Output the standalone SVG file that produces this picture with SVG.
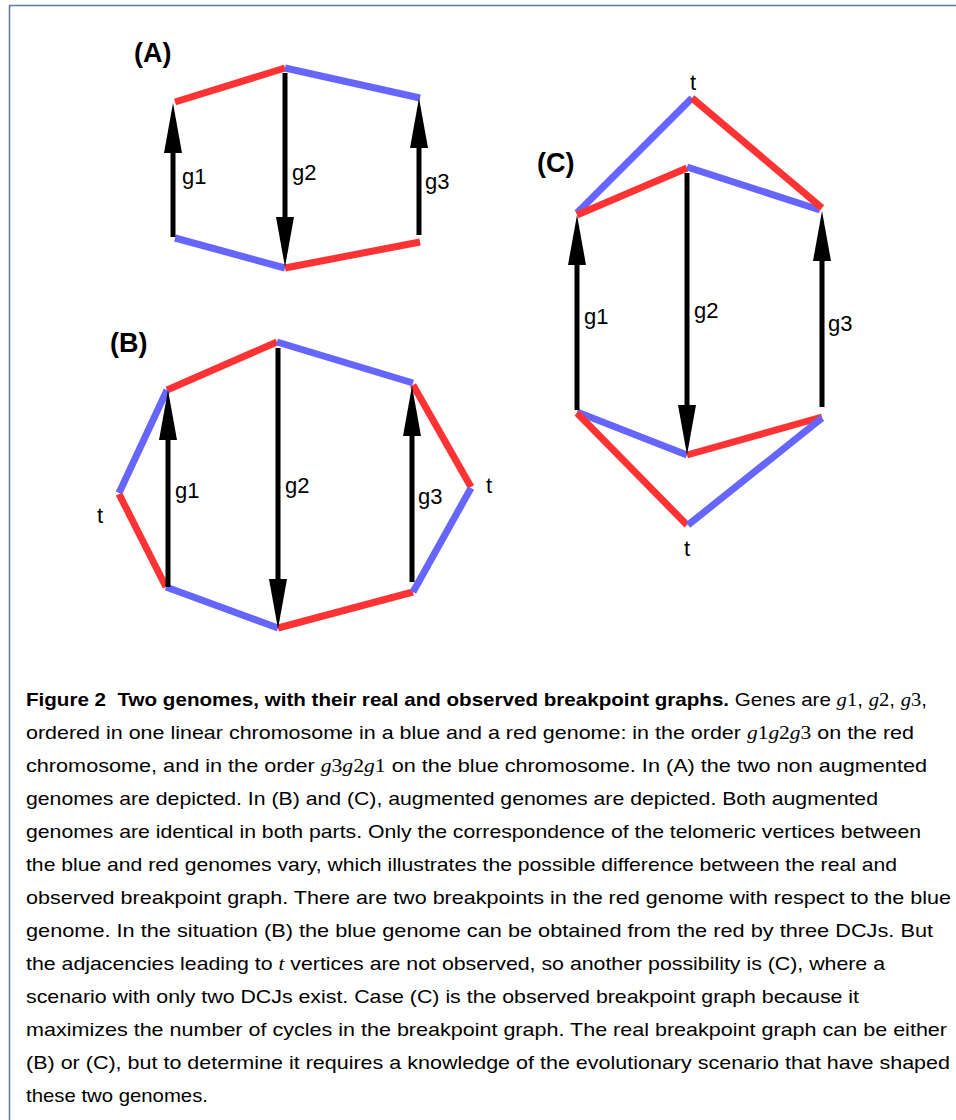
<svg xmlns="http://www.w3.org/2000/svg" width="956" height="1120" viewBox="0 0 956 1120">
<style>
.r{stroke:#ff3333;stroke-width:7;fill:none}
.b{stroke:#6666ff;stroke-width:7;fill:none}
.g{stroke:#000;stroke-width:5;fill:none;marker-end:url(#ah)}
.lb{font-family:"Liberation Sans",Arial,sans-serif;font-size:22px;fill:#000}
.pl{font-family:"Liberation Sans",Arial,sans-serif;font-size:27px;font-weight:bold;fill:#000}
.cap{font-family:"Liberation Sans",Arial,sans-serif;font-size:19px;fill:#000}
.m{font-family:"Liberation Serif","Times New Roman",serif;font-style:italic}
.d{font-family:"Liberation Serif","Times New Roman",serif}
</style>
<defs>
<marker id="ah" markerUnits="userSpaceOnUse" markerWidth="50" markerHeight="18" viewBox="0 0 50 18" refX="2" refY="9" orient="auto">
<path d="M0,0 L50,9 L0,18 Z" fill="#000"/>
</marker>
</defs>
<rect width="956" height="1120" fill="#fff"/>
<path d="M9.5,1120 V5.5 H956" fill="none" stroke="#5b7aa8" stroke-width="1.5"/>

<g id="panelA">
<text class="pl" x="134" y="62">(A)</text>
<line class="r" x1="175" y1="102" x2="285" y2="68"/>
<line class="b" x1="285" y1="68" x2="420" y2="98"/>
<line class="b" x1="175" y1="238" x2="285" y2="268"/>
<line class="r" x1="285" y1="268" x2="420" y2="242"/>
<g id="A-genes">
<line class="g" x1="173" y1="237" x2="173" y2="151"/>
<line class="g" x1="285" y1="73" x2="285" y2="219"/>
<line class="g" x1="419" y1="235" x2="419" y2="146"/>
</g>
<text class="lb" x="182" y="184">g1</text>
<text class="lb" x="292" y="180">g2</text>
<text class="lb" x="425" y="189">g3</text>
</g>

<g id="panelB">
<text class="pl" x="110" y="352">(B)</text>
<line class="r" x1="167" y1="390" x2="277" y2="342"/>
<line class="b" x1="277" y1="342" x2="413" y2="383"/>
<line class="b" x1="167" y1="390" x2="119" y2="493"/>
<line class="r" x1="119" y1="494" x2="166" y2="587"/>
<line class="b" x1="166" y1="587" x2="278" y2="628"/>
<line class="r" x1="278" y1="628" x2="413" y2="592"/>
<line class="r" x1="413" y1="385" x2="471" y2="487"/>
<line class="b" x1="471" y1="488" x2="413" y2="592"/>
<g id="B-genes">
<line class="g" x1="168" y1="587" x2="168" y2="438"/>
<line class="g" x1="278" y1="348" x2="278" y2="581"/>
<line class="g" x1="412" y1="582" x2="412" y2="434"/>
</g>
<text class="lb" x="175" y="498">g1</text>
<text class="lb" x="285" y="493">g2</text>
<text class="lb" x="418" y="504">g3</text>
<text class="lb" x="97" y="523">t</text>
<text class="lb" x="486" y="493">t</text>
</g>

<g id="panelC">
<text class="pl" x="537" y="172">(C)</text>
<line class="b" x1="577" y1="213" x2="692" y2="98"/>
<line class="b" x1="687" y1="167" x2="820" y2="210"/>
<line class="r" x1="692" y1="98" x2="822" y2="208"/>
<line class="r" x1="577" y1="215" x2="687" y2="168"/>
<line class="b" x1="577" y1="412" x2="687" y2="455"/>
<line class="r" x1="687" y1="455" x2="822" y2="417"/>
<line class="r" x1="577" y1="413" x2="687" y2="525"/>
<line class="b" x1="688" y1="525" x2="822" y2="418"/>
<g id="C-genes">
<line class="g" x1="577" y1="410" x2="577" y2="263"/>
<line class="g" x1="687" y1="173" x2="687" y2="407"/>
<line class="g" x1="822" y1="407" x2="822" y2="259"/>
</g>
<text class="lb" x="584" y="324">g1</text>
<text class="lb" x="694" y="318">g2</text>
<text class="lb" x="828" y="331">g3</text>
<text class="lb" x="693" y="90" text-anchor="middle">t</text>
<text class="lb" x="687" y="556" text-anchor="middle">t</text>
</g>

<g id="caption" class="cap">
<text x="26" y="706" textLength="901" lengthAdjust="spacingAndGlyphs"><tspan font-weight="bold">Figure 2&#160; Two genomes, with their real and observed breakpoint graphs.</tspan> Genes are <tspan class="m">g</tspan><tspan class="d">1</tspan>, <tspan class="m">g</tspan><tspan class="d">2</tspan>, <tspan class="m">g</tspan><tspan class="d">3</tspan>,</text>
<text x="26" y="739" textLength="888" lengthAdjust="spacingAndGlyphs">ordered in one linear chromosome in a blue and a red genome: in the order <tspan class="m">g</tspan><tspan class="d">1</tspan><tspan class="m">g</tspan><tspan class="d">2</tspan><tspan class="m">g</tspan><tspan class="d">3</tspan> on the red</text>
<text x="26" y="772" textLength="901" lengthAdjust="spacingAndGlyphs">chromosome, and in the order <tspan class="m">g</tspan><tspan class="d">3</tspan><tspan class="m">g</tspan><tspan class="d">2</tspan><tspan class="m">g</tspan><tspan class="d">1</tspan> on the blue chromosome. In (A) the two non augmented</text>
<text x="26" y="805" textLength="852" lengthAdjust="spacingAndGlyphs">genomes are depicted. In (B) and (C), augmented genomes are depicted. Both augmented</text>
<text x="26" y="838" textLength="895" lengthAdjust="spacingAndGlyphs">genomes are identical in both parts. Only the correspondence of the telomeric vertices between</text>
<text x="26" y="871" textLength="871" lengthAdjust="spacingAndGlyphs">the blue and red genomes vary, which illustrates the possible difference between the real and</text>
<text x="26" y="904" textLength="925" lengthAdjust="spacingAndGlyphs">observed breakpoint graph. There are two breakpoints in the red genome with respect to the blue</text>
<text x="26" y="937" textLength="907" lengthAdjust="spacingAndGlyphs">genome. In the situation (B) the blue genome can be obtained from the red by three DCJs. But</text>
<text x="26" y="970" textLength="859" lengthAdjust="spacingAndGlyphs">the adjacencies leading to <tspan class="m">t</tspan> vertices are not observed, so another possibility is (C), where a</text>
<text x="26" y="1003" textLength="833" lengthAdjust="spacingAndGlyphs">scenario with only two DCJs exist. Case (C) is the observed breakpoint graph because it</text>
<text x="26" y="1036" textLength="921" lengthAdjust="spacingAndGlyphs">maximizes the number of cycles in the breakpoint graph. The real breakpoint graph can be either</text>
<text x="26" y="1069" textLength="924" lengthAdjust="spacingAndGlyphs">(B) or (C), but to determine it requires a knowledge of the evolutionary scenario that have shaped</text>
<text x="26" y="1102" textLength="182" lengthAdjust="spacingAndGlyphs">these two genomes.</text>
</g>
</svg>
